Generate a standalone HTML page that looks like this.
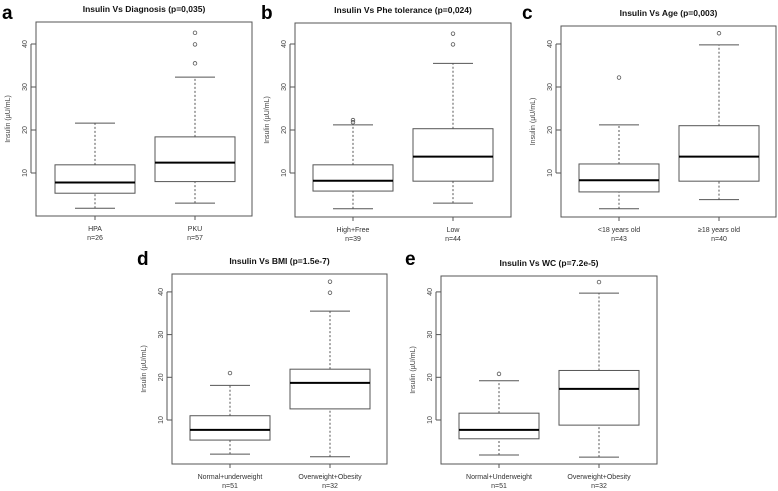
<!DOCTYPE html>
<html><head><meta charset="utf-8"><style>
html,body{margin:0;padding:0;background:#fff;}
svg{display:block;font-family:"Liberation Sans",sans-serif;}
</style></head><body>
<svg id="fig" width="778" height="491" viewBox="0 0 778 491"></svg>
<script>
// data: [lowWhisker, Q1, median, Q3, highWhisker]
const titles = ["Insulin Vs Diagnosis (p=0,035)","Insulin Vs Phe tolerance (p=0,024)","Insulin Vs Age (p=0,003)","Insulin Vs BMI (p=1.5e-7)","Insulin Vs WC (p=7.2e-5)"];
const letters = ["a","b","c","d","e"];
const catsA = ["HPA","PKU"], nA = ["n=26","n=57"];
const catsB = ["High+Free","Low"], nB = ["n=39","n=44"];
const catsC = ["<18 years old","\u226518 years old"], nC = ["n=43","n=40"];
const catsD = ["Normal+underweight","Overweight+Obesity"], nD = ["n=51","n=32"];
const catsE = ["Normal+Underweight","Overweight+Obesity"], nE = ["n=51","n=32"];
const statsA = [[1.8,5.3,7.8,11.9,21.6],[3.0,8.0,12.4,18.4,32.3]];
const statsB = [[1.7,5.8,8.2,11.9,21.2],[3.0,8.1,13.8,20.3,35.5]];
const statsC = [[1.7,5.6,8.3,12.1,21.2],[3.8,8.1,13.8,21.0,39.8]];
const statsD = [[2.0,5.3,7.7,11.0,18.1],[1.4,12.6,18.7,21.9,35.5]];
const statsE = [[1.8,5.6,7.7,11.6,19.2],[1.3,8.8,17.3,21.6,39.7]];
const outA = [[],[35.5,39.9,42.6]];
const outB = [[21.8,22.3],[39.9,42.4]];
const outC = [[32.2],[42.5]];
const outD = [[21.0],[39.8,42.4]];
const outE = [[20.8],[42.3]];
const yTicks = [10,20,30,40];

const panels = [
 {cats:catsA,ns:nA,stats:statsA,out:outA,L:36,R:252,T:22,B:216,zero:216,k:4.3,cx:[95,195],lx:2,ly:19},
 {cats:catsB,ns:nB,stats:statsB,out:outB,L:295,R:511,T:23,B:217,zero:216,k:4.3,cx:[353,453],lx:261,ly:19},
 {cats:catsC,ns:nC,stats:statsC,out:outC,L:561,R:776,T:26,B:217,zero:216,k:4.3,cx:[619,719],lx:522,ly:19},
 {cats:catsD,ns:nD,stats:statsD,out:outD,L:172,R:387,T:274,B:464,zero:462.7,k:4.27,cx:[230,330],lx:137,ly:265},
 {cats:catsE,ns:nE,stats:statsE,out:outE,L:441,R:657,T:276,B:464,zero:462.7,k:4.27,cx:[499,599],lx:405,ly:265}
];
const svg = document.getElementById('fig');
const NS = 'http://www.w3.org/2000/svg';
function mk(tag, attrs, parent){const e=document.createElementNS(NS,tag);for(const a in attrs)e.setAttribute(a,attrs[a]);(parent||svg).appendChild(e);return e;}
panels.forEach((p,i)=>{
  const y = v => p.zero - p.k*v;
  const g = mk('g',{});
  
  
  const lt = mk('text',{x:p.lx,y:p.ly,'font-size':19,'font-weight':'bold',fill:'#000'},g);
  lt.textContent = letters[i];
  
  
  const tt = mk('text',{x:(p.L+p.R)/2,y:p.T-10,'font-size':8.5,'font-weight':'bold','text-anchor':'middle',fill:'#111'},g);
  tt.textContent = titles[i];
  
  
  const fr = mk('rect',{x:p.L,y:p.T,width:p.R-p.L,height:p.B-p.T,fill:'none',stroke:'#555','stroke-width':1},g);
  
  
  // y axis
  yTicks.forEach(t=>{
    const yy=y(t);
    mk('line',{x1:p.L-5,x2:p.L,y1:yy,y2:yy,stroke:'#555'},g);
    const tl = mk('text',{x:0,y:0,'font-size':7,fill:'#444','text-anchor':'middle',transform:`translate(${p.L-9},${yy}) rotate(-90)`},g);
    tl.textContent = t;
    
    
  });
  mk('line',{x1:p.L-5,x2:p.L-5,y1:y(yTicks[0]),y2:y(yTicks[yTicks.length-1]),stroke:'#555'},g);
  const yt = mk('text',{x:0,y:0,'font-size':7,fill:'#444','text-anchor':'middle',transform:`translate(${p.L-26},${(p.T+p.B)/2}) rotate(-90)`},g);
  yt.textContent = 'Insulin (\u00b5U/mL)';
  
  
  p.stats.forEach((s,j)=>{
    const cx=p.cx[j], hw=40, cw=20;
    const bg = mk('g',{},g);
    
    
    mk('line',{x1:cx,x2:cx,y1:y(s[0]),y2:y(s[1]),stroke:'#555','stroke-dasharray':'2,2'},bg);
    mk('line',{x1:cx,x2:cx,y1:y(s[3]),y2:y(s[4]),stroke:'#555','stroke-dasharray':'2,2'},bg);
    mk('line',{x1:cx-cw,x2:cx+cw,y1:y(s[0]),y2:y(s[0]),stroke:'#555'},bg);
    mk('line',{x1:cx-cw,x2:cx+cw,y1:y(s[4]),y2:y(s[4]),stroke:'#555'},bg);
    mk('rect',{x:cx-hw,y:y(s[3]),width:2*hw,height:y(s[1])-y(s[3]),fill:'#fff',stroke:'#555'},bg);
    mk('line',{x1:cx-hw,x2:cx+hw,y1:y(s[2]),y2:y(s[2]),stroke:'#000','stroke-width':2},bg);
    p.out[j].forEach(o=>{
      const c = mk('circle',{cx:cx,cy:y(o),r:1.8,fill:'none',stroke:'#555','stroke-width':0.8},bg);
      
      
    });
    mk('line',{x1:cx,x2:cx,y1:p.B,y2:p.B+4,stroke:'#555'},g);
    const xl = mk('text',{x:cx,y:p.B+15,'font-size':7,fill:'#333','text-anchor':'middle'},g);
    xl.textContent = p.cats[j];
    
    
    const nl = mk('text',{x:cx,y:p.B+24,'font-size':7,fill:'#333','text-anchor':'middle'},g);
    nl.textContent = p.ns[j];
    
    
  });
});
</script>
</body></html>
